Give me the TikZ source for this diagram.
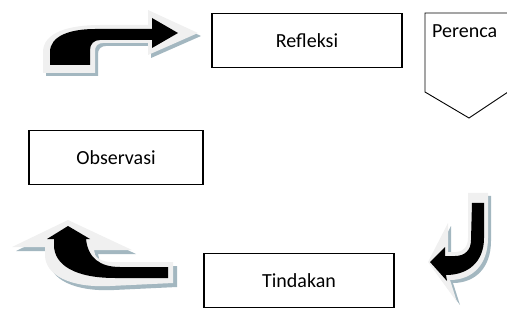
\documentclass[tikz,border=0pt]{standalone}
\usepackage{fontspec}
\setmainfont{Carlito}
\definecolor{arrowlight}{HTML}{F0F0F0}
\definecolor{arrowshade}{HTML}{A3B7C0}
\begin{document}
\begin{tikzpicture}[x=1pt,y=-1pt,
  box/.style={draw=black, line width=1.2pt, fill=white, minimum width=#1, minimum height=54pt,
              inner sep=0pt, font=\fontsize{20}{24}\selectfont},
  box/.default=190pt,
  lightpart/.style={fill=arrowlight},
  shadepart/.style={fill=arrowshade},
  darkpart/.style={fill=black}]
\useasboundingbox (0,0) rectangle (507,321);

% --- bent arrow, top left, pointing right ---
\def\arrowA{(43,73) -- (43,52) .. controls (43,32) and (70,25) .. (100,25) -- (148,25) -- (148,10)
  -- (198,33) -- (148,55) -- (148,43) -- (103,43) .. controls (98,43) and (95,46) .. (95,51) -- (95,73) -- cycle}
\begin{scope}[shift={(3,3)}] \fill[shadepart] \arrowA; \end{scope}
\fill[lightpart] \arrowA;
\fill[darkpart] (50,65) -- (50,52) .. controls (50,36) and (70,29) .. (95,29) -- (152,29) -- (152,18)
  -- (178,33) -- (152,48) -- (152,40) -- (100,40) .. controls (94,40) and (90,44) .. (90,50) -- (90,65) -- cycle;

% --- hook arrow, right, pointing left ---
\def\arrowB{(468,193) -- (488,193) -- (488,238) .. controls (488,265) and (472,280) .. (450,280)
  -- (457,302) -- (428,262) -- (448,223) -- (448,252) -- (456,252) .. controls (463,252) and (468,247) .. (468,238) -- cycle}
\begin{scope}[shift={(3,3)}] \fill[shadepart] \arrowB; \end{scope}
\fill[lightpart] \arrowB;
\fill[darkpart] (472,203) -- (484,203) -- (484,238) .. controls (484,262) and (468,275) .. (446,275)
  -- (447,281) -- (430,262) -- (445,247) -- (445,256) -- (455,256) .. controls (465,256) and (471,250) .. (471,240) -- cycle;

% --- bent arrow, bottom left, pointing up ---
\def\arrowC{(68,220) -- (132,250) -- (94,250) .. controls (94,257) and (100,262) .. (112,262) -- (173,262)
  -- (173,283) -- (110,286) .. controls (70,288) and (45,275) .. (45,255) -- (45,247) -- (12,247) -- cycle}
\begin{scope}[shift={(4,4)}] \fill[shadepart] \arrowC; \end{scope}
\fill[lightpart] \arrowC;
\fill[darkpart] (68,226) -- (90,239) -- (86,239) .. controls (88,258) and (100,267) .. (120,267) -- (168,267)
  -- (168,278) -- (115,278) .. controls (75,278) and (54,265) .. (54,245) -- (54,239) -- (47,239) -- cycle;

% --- steps of the cycle ---
\node[box] (refl) at (307,40.5) {Refleksi};
\node[box=174pt] (obs) at (116,157.5) {Observasi};
\node[box] (tind) at (299,280.5) {Tindakan};

% pentagon-shaped planning step, running past the right edge
\draw[line width=0.9pt, fill=white] (425,13) -- (514,13) -- (514,88) -- (469,118) -- (425,92) -- cycle;
\node[anchor=west, inner sep=0pt, font=\fontsize{20}{24}\selectfont] (plan) at (432,31) {Perenca};
\end{tikzpicture}
\end{document}
